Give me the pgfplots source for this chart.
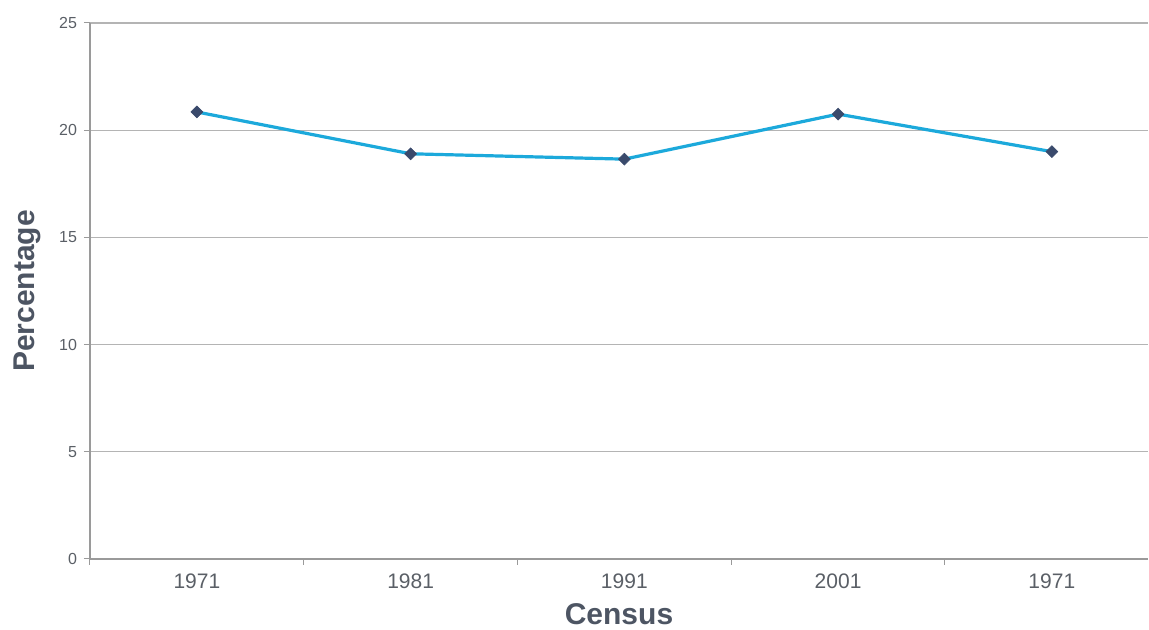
\documentclass[border=0pt]{standalone}
\usepackage{fontspec}
\setmainfont{Liberation Sans}
\usepackage{pgfplots}
\pgfplotsset{compat=1.18}
\definecolor{linecol}{HTML}{1CA9DB}
\definecolor{markcol}{HTML}{3A4A6C}
\definecolor{gridcol}{HTML}{B4B4B4}
\definecolor{axcol}{HTML}{9A9A9A}
\definecolor{ticklab}{HTML}{5A5F66}
\definecolor{labcol}{HTML}{4D5563}
\begin{document}
\begin{tikzpicture}
\useasboundingbox (-45pt,-35.5pt) rectangle (529.5pt,279.5pt);
\begin{axis}[
  at={(0,0)}, anchor=south west,
  scale only axis, width=529pt, height=268pt,
  xmin=-0.5, xmax=4.45, ymin=0, ymax=25,
  axis x line*=bottom, axis y line*=left,
  axis line style={axcol, line width=0.6pt, -},
  xtick={0,1,2,3,4},
  xticklabels={1971,1981,1991,2001,1971},
  major x tick style={draw=none},
  minor xtick={-0.5,0.5,1.5,2.5,3.5},
  minor x tick style={axcol, line width=0.5pt},
  minor tick length=3pt,
  ytick={0,5,10,15,20,25},
  major y tick style={axcol, line width=0.5pt},
  major tick length=3pt,
  tick align=outside,
  ymajorgrids, grid style={gridcol, line width=0.6pt},
  x tick label style={font=\fontsize{10.5}{12}\selectfont, text=ticklab, yshift=-1pt},
  y tick label style={font=\fontsize{8}{10}\selectfont, text=ticklab},
  /pgf/number format/assume math mode=true,
  xlabel={\textbf{Census}},
  ylabel={\textbf{Percentage}},
  xlabel style={font=\fontsize{15}{18}\selectfont, text=labcol, at={(axis description cs:0.5,-0.102)}, anchor=center},
  ylabel style={font=\fontsize{15}{18}\selectfont, text=labcol, at={(axis description cs:-0.0595,0.5)}, anchor=center, rotate=0},
  clip=false,
]
\addplot[linecol, line width=1.6pt, mark=square*, mark size=2.1pt,
  mark options={fill=markcol, draw=markcol, line width=0.3pt, rotate=45}]
  coordinates {(0,20.85) (1,18.9) (2,18.65) (3,20.75) (4,19.0)};
\end{axis}
\end{tikzpicture}
\end{document}
